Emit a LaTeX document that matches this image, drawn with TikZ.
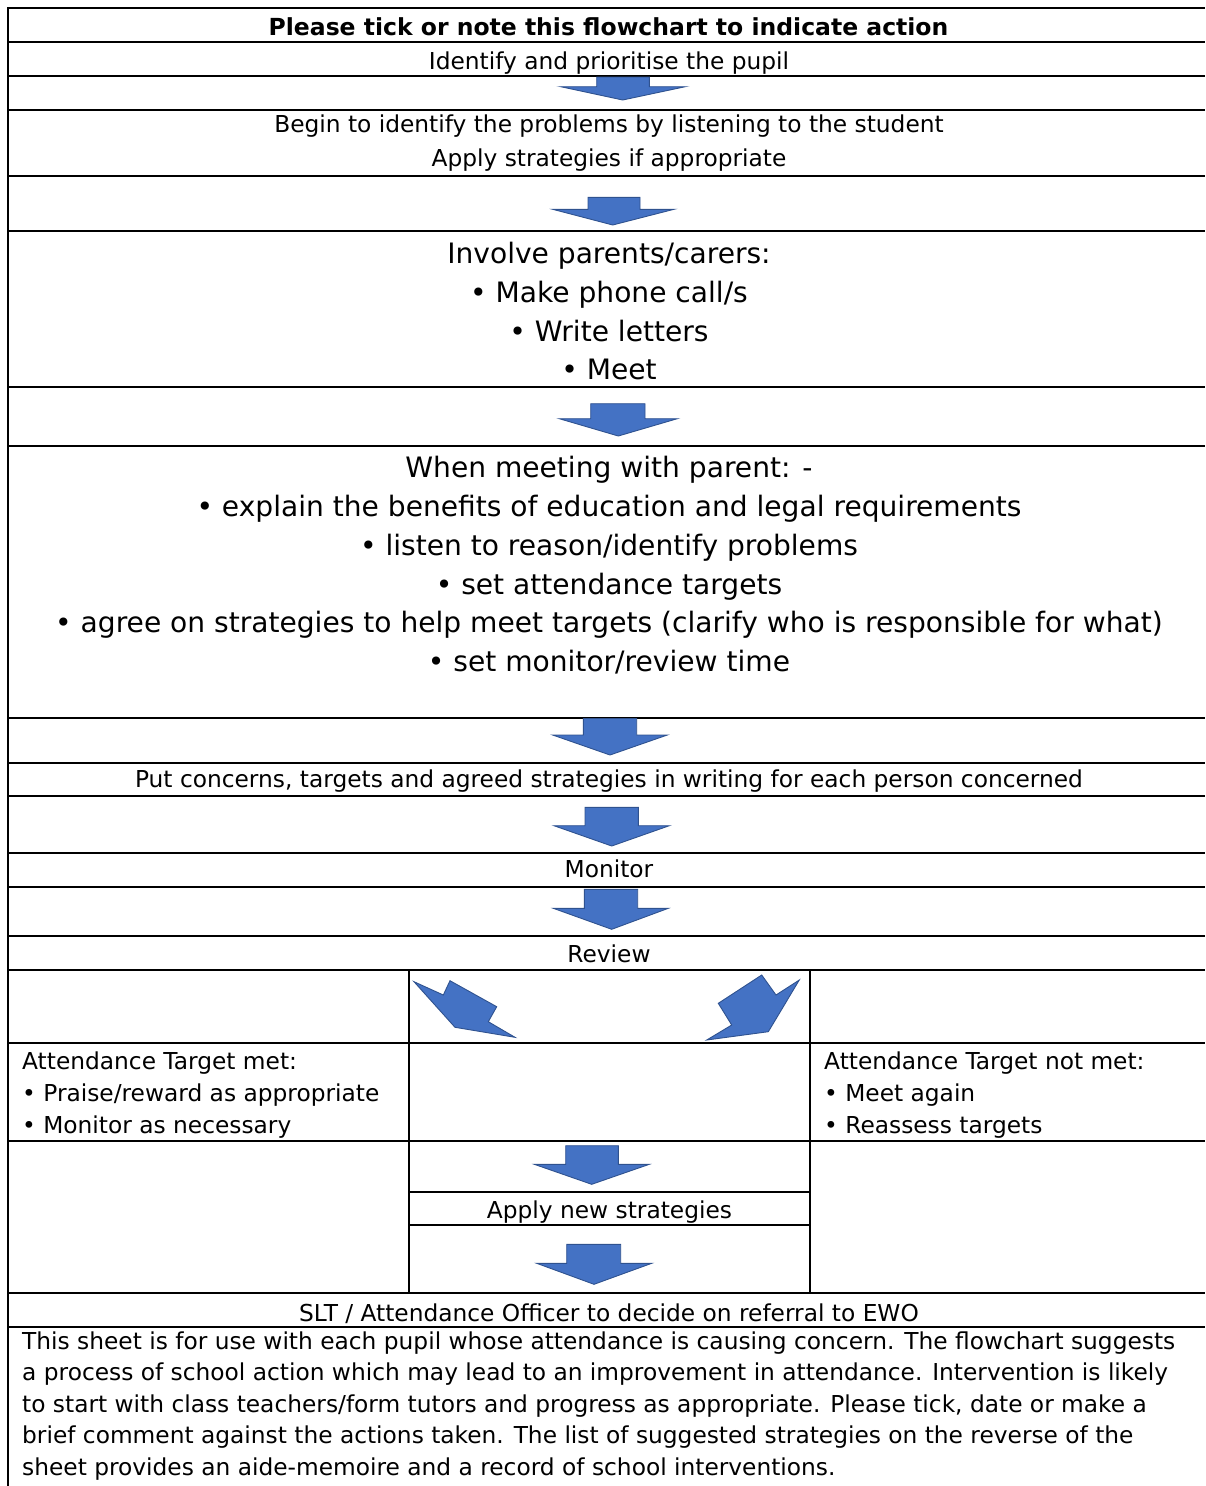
\documentclass[tikz,border=0pt]{standalone}
\usepackage{fontspec}
\newfontfamily\sm{DejaVu Sans}
\newfontfamily\bg{DejaVu Sans}
\definecolor{ablue}{HTML}{4472C4}
\definecolor{aedge}{HTML}{2F528F}
\tikzset{
  grid/.style={line width=1.8pt, black},
  blk/.style={fill=ablue, draw=aedge, line width=0.9pt, line join=miter},
  txt/.style={inner sep=0pt, anchor=base, font=\sm\fontsize{23.3}{32}\selectfont},
  txtl/.style={txt, anchor=base west},
  big/.style={inner sep=0pt, anchor=base, font=\bg\fontsize{28.1}{38.8}\selectfont},
}
\newcommand\darrow[8]{%
  \draw[blk] (#1,#3) -- (#2,#3) -- (#2,#6) -- (#5,#6) -- (#7,#8) -- (#4,#6) -- (#1,#6) -- cycle;}
\begin{document}
\begin{tikzpicture}[x=1pt,y=-1pt]
\useasboundingbox (0,0) rectangle (1205,1486);
% full-width horizontal rules
\foreach \yy in {8,42,76,110,176,231,387,446,718,763,796,853,887,936,970,1043,1141,1293,1327}
  \draw[grid] (7.1,\yy) -- (1205,\yy);
% partial rules in middle column
\draw[grid] (409,1192) -- (810,1192);
\draw[grid] (409,1225) -- (810,1225);
% verticals
\draw[grid] (8,7.1) -- (8,1486);
\draw[grid] (409,970) -- (409,1293);
\draw[grid] (810,970) -- (810,1293);

% texts
\node[txt, font=\sm\bfseries\fontsize{23.5}{32}\selectfont] (hdr) at (608.5,35) {Please tick or note this flowchart to indicate action};
\node[txt] (t1) at (609,69) {Identify and prioritise the pupil};
\node[txt] (t2a) at (609,132.5) {Begin to identify the problems by listening to the student};
\node[txt] (t2b) at (609,166) {Apply strategies if appropriate};
\node[big] (t3a) at (609,263.7) {Involve parents/carers:};
\node[big] (t3b) at (609,302.6) {• Make phone call/s};
\node[big] (t3c) at (609,341.2) {• Write letters};
\node[big] (t3d) at (609,379.8) {• Meet};
\node[big] (t4a) at (609,477.7) {When meeting with parent: -};
\node[big] (t4b) at (609,516.5) {• explain the benefits of education and legal requirements};
\node[big] (t4c) at (609,555.2) {• listen to reason/identify problems};
\node[big] (t4d) at (609,594) {• set attendance targets};
\node[big] (t4e) at (609,632.8) {• agree on strategies to help meet targets (clarify who is responsible for what)};
\node[big] (t4f) at (609,671.6) {• set monitor/review time};
\node[txt] (t5) at (609,787) {Put concerns, targets and agreed strategies in writing for each person concerned};
\node[txt] (t6) at (609,877) {Monitor};
\node[txt] (t7) at (609,962) {Review};
\node[txtl] (l1) at (22,1069) {Attendance Target met:};
\node[txtl] (l2) at (22,1101.3) {• Praise/reward as appropriate};
\node[txtl] (l3) at (22,1133.2) {• Monitor as necessary};
\node[txtl] (r1) at (824,1069) {Attendance Target not met:};
\node[txtl] (r2) at (824,1101.3) {• Meet again};
\node[txtl] (r3) at (824,1133.2) {• Reassess targets};
\node[txt] (t8) at (609.5,1218) {Apply new strategies};
\node[txt] (t9) at (609,1321.3) {SLT / Attendance Officer to decide on referral to EWO};
\node[txtl] (p1) at (22,1349) {This sheet is for use with each pupil whose attendance is causing concern. The flowchart suggests};
\node[txtl] (p2) at (22,1380.5) {a process of school action which may lead to an improvement in attendance. Intervention is likely};
\node[txtl] (p3) at (22,1412) {to start with class teachers/form tutors and progress as appropriate. Please tick, date or make a};
\node[txtl] (p4) at (22,1443.5) {brief comment against the actions taken. The list of suggested strategies on the reverse of the};
\node[txtl] (p5) at (22,1475) {sheet provides an aide-memoire and a record of school interventions.};

% down block arrows
\darrow{596.7}{649.3}{77}{560.7}{685.3}{86.7}{622.7}{100}
\darrow{588}{640}{197.3}{552.7}{674}{209.3}{612.7}{225}
\darrow{590.7}{645}{403.7}{559.3}{677.3}{418.7}{618.3}{436}
\darrow{583.3}{636.7}{718.5}{552.7}{667.3}{735}{610}{755}
\darrow{585}{638.3}{807.3}{554}{669.3}{825.7}{611.7}{846}
\darrow{584.3}{637.7}{889.3}{553.3}{668.3}{908.3}{611.7}{929.3}
\darrow{565.7}{618.3}{1145.7}{534.3}{649.3}{1164.3}{591.7}{1184.3}
\darrow{566.7}{620.7}{1244.3}{536.7}{651.7}{1263.3}{594}{1284.3}

% diagonal arrows
\draw[blk] (414,981.7) -- (443.3,995) -- (450,980.7) -- (496.7,1006.7) -- (488.3,1021.7) -- (515,1037.3) -- (455,1027.3) -- cycle;
\draw[blk] (799.3,980) -- (776,995) -- (761.7,975) -- (718.3,1003.3) -- (731.7,1025) -- (706.7,1040) -- (768.3,1031.7) -- cycle;
\end{tikzpicture}
\end{document}
